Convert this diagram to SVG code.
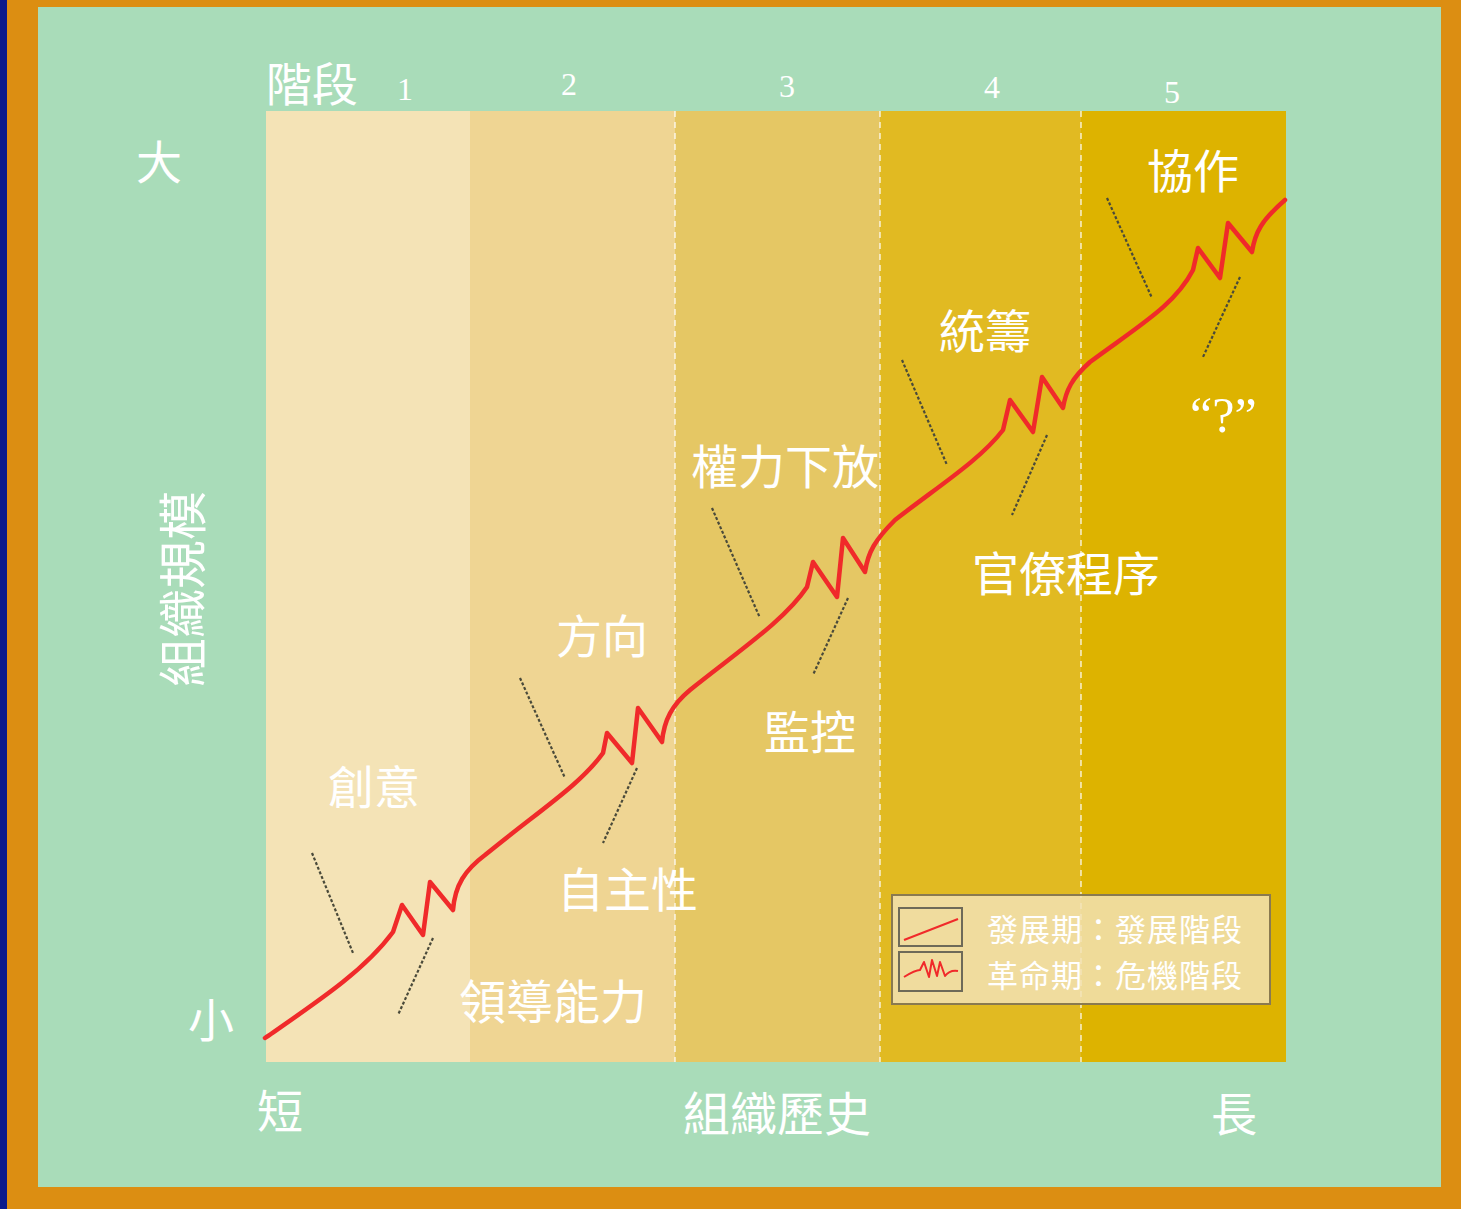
<svg xmlns="http://www.w3.org/2000/svg" width="1461" height="1209" viewBox="0 0 1461 1209">
<style>
.cjk{font-family:"Noto Sans CJK TC","Noto Sans CJK SC",sans-serif;fill:#ffffff;}
.num{font-family:"Liberation Serif",serif;fill:#ffffff;}
.lead{stroke:#4a4a3a;stroke-width:2.2;stroke-dasharray:3 2;fill:none;}
.sep{stroke:#ffffff;stroke-width:1.5;stroke-dasharray:6 5;opacity:0.8;}
.curve{stroke:#f02a2a;stroke-width:4.5;fill:none;stroke-linejoin:round;stroke-linecap:round;}
</style>
<rect x="0" y="0" width="1461" height="1209" fill="#dc8e12"/>
<rect x="0" y="0" width="7" height="1209" fill="#0a1a8c"/>
<rect x="38" y="7" width="1403" height="1180" fill="#a9dcb9"/>
<g id="columns">
<rect x="266" y="111" width="204" height="951" fill="#f4e3b6"/>
<rect x="470" y="111" width="205" height="951" fill="#efd593"/>
<rect x="675" y="111" width="205" height="951" fill="#e5c764"/>
<rect x="880" y="111" width="201" height="951" fill="#e1ba22"/>
<rect x="1081" y="111" width="205" height="951" fill="#ddb300"/>
<line class="sep" x1="675" y1="111" x2="675" y2="1062"/>
<line class="sep" x1="880" y1="111" x2="880" y2="1062"/>
<line class="sep" x1="1081" y1="111" x2="1081" y2="1062"/>
</g>
<g id="axes-labels">
<text class="cjk" x="266" y="101" font-size="46">階段</text>
<text class="num" x="397" y="100" font-size="32">1</text>
<text class="num" x="561" y="95" font-size="32">2</text>
<text class="num" x="779" y="97" font-size="32">3</text>
<text class="num" x="984" y="98" font-size="32">4</text>
<text class="num" x="1164" y="103" font-size="32">5</text>
<text class="cjk" x="136" y="179" font-size="46">大</text>
<text class="cjk" x="188" y="1037" font-size="46">小</text>
<text class="cjk" x="257" y="1128" font-size="46">短</text>
<text class="cjk" x="683" y="1131" font-size="47">組織歷史</text>
<text class="cjk" x="1211" y="1131" font-size="46">長</text>
<text class="cjk" font-size="49" transform="translate(201,687) rotate(-90)">組織規模</text>
</g>
<g id="connectors">
<path class="curve" d="M265,1038 C320,1000 365,970 393,932 L402,905 L423,935 L430,882 L453,910 C455,885 465,870 485,855 C540,810 580,785 603,753 L607,733 L632,763 L638,708 L662,742 C664,720 672,705 690,690 C740,650 785,620 807,587 L813,562 L837,597 L843,538 L865,572 C868,552 875,540 895,520 C940,485 980,460 1003,430 L1010,400 L1033,432 L1042,377 L1063,408 C1066,390 1072,378 1090,362 C1140,325 1175,305 1193,270 L1198,248 L1220,278 L1228,223 L1252,252 C1255,232 1262,220 1285,200"/>
<line class="lead" x1="312" y1="853" x2="353" y2="953"/>
<line class="lead" x1="433" y1="938" x2="398" y2="1015"/>
<line class="lead" x1="520" y1="678" x2="565" y2="778"/>
<line class="lead" x1="637" y1="768" x2="603" y2="843"/>
<line class="lead" x1="712" y1="508" x2="760" y2="618"/>
<line class="lead" x1="848" y1="598" x2="813" y2="675"/>
<line class="lead" x1="902" y1="360" x2="947" y2="465"/>
<line class="lead" x1="1047" y1="435" x2="1012" y2="515"/>
<line class="lead" x1="1107" y1="198" x2="1152" y2="298"/>
<line class="lead" x1="1240" y1="277" x2="1203" y2="357"/>
</g>
<g id="stage-labels">
<text class="cjk" x="328" y="804" font-size="46">創意</text>
<text class="cjk" x="459" y="1019" font-size="47">領導能力</text>
<text class="cjk" x="556" y="653" font-size="46">方向</text>
<text class="cjk" x="557" y="907" font-size="47">自主性</text>
<text class="cjk" x="691" y="484" font-size="47">權力下放</text>
<text class="cjk" x="764" y="749" font-size="46">監控</text>
<text class="cjk" x="939" y="348" font-size="46">統籌</text>
<text class="cjk" x="972" y="591" font-size="47">官僚程序</text>
<text class="cjk" x="1147" y="188" font-size="46">協作</text>
<text class="num" x="1190" y="432" font-size="50">“?”</text>
</g>
<g id="legend">
<rect x="892" y="895" width="378" height="109" fill="#f2e2b4" fill-opacity="0.85" stroke="#8a7a50" stroke-width="2"/>
<rect x="899" y="908" width="63" height="38" fill="none" stroke="#6e6a58" stroke-width="2"/>
<rect x="899" y="952" width="63" height="39" fill="none" stroke="#6e6a58" stroke-width="2"/>
<path d="M904,940 L958,919" stroke="#f02a2a" stroke-width="2" fill="none"/>
<path d="M904,977 C912,972 916,970 920,970 L924,962 L929,977 L932,960 L937,976 L940,962 L945,976 C948,972 952,970 958,971" stroke="#f02a2a" stroke-width="2" fill="none" stroke-linejoin="round"/>
<text class="cjk" x="987" y="941" font-size="31" letter-spacing="1">發展期：發展階段</text>
<text class="cjk" x="987" y="987" font-size="31" letter-spacing="1">革命期：危機階段</text>
</g>
</svg>
